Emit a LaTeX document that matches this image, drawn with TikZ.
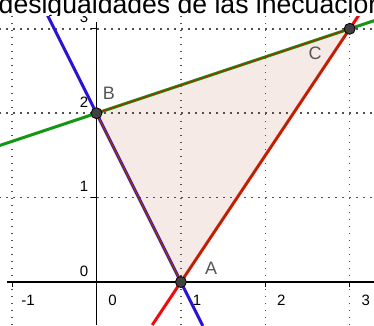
\documentclass[tikz,border=0pt]{standalone}
\usepackage{fontspec}
\setmainfont{Liberation Sans}
\usetikzlibrary{calc}
\definecolor{ggblue}{RGB}{40,20,215}
\definecolor{ggred}{RGB}{240,10,10}
\definecolor{gggreen}{RGB}{20,150,20}
\definecolor{ggbrown}{RGB}{153,51,0}
\definecolor{gridgray}{RGB}{80,80,80}
\definecolor{labgray}{RGB}{85,85,85}
\tikzset{
  gridline/.style={gridgray, line width=1.5pt, dash pattern=on 1.5pt off 5.5pt},
  axisline/.style={black, line width=1.2pt},
  plotline/.style={line width=3pt},
  edgeline/.style={ggbrown, line width=1.4pt},
  ptdot/.style={circle, fill=black!75, draw=black, line width=0.8pt, minimum size=11pt, inner sep=0pt},
  ticklab/.style={font=\fontsize{15}{15}\selectfont, inner sep=0pt},
  ptlab/.style={font=\fontsize{18}{18}\selectfont, text=labgray, inner sep=0pt}
}
\begin{document}
\begin{tikzpicture}[x=84.4pt,y=84.4pt]
\useasboundingbox (-1.1434,-0.5095) rectangle (3.2879,3.3412);
\clip (-1.1434,-0.5095) rectangle (3.2879,3.3412);
% grid
\foreach \x in {-1,1,2,3} \draw[gridline] (\x,-0.51) -- (\x,3.15);
\foreach \y in {1,2,3} \draw[gridline] (-1.15,\y) -- (3.29,\y);
% axes
\draw[axisline] (-1.06,0) -- (3.29,0);
\draw[axisline] (0,-0.51) -- (0,3.08);
\foreach \x in {-1,1,2,3} \draw[axisline] (\x,0) -- (\x,-0.06);
\foreach \y in {1,2,3} \draw[axisline] (0,\y) -- (-0.07,\y);
% tick labels
\foreach \x/\t in {-1/-1,0/0,1/1,2/2,3/3} \node[ticklab] (xl\x) at (\x+0.19,-0.213) {\t};
\foreach \y in {0,1,2,3} \node[ticklab] (yl\y) at (-0.148,\y+0.13) {\y};
% points
\coordinate (A) at (1,0);
\coordinate (B) at (0,2);
\coordinate (C) at (3,3);
% triangle fill
\fill[ggbrown, fill opacity=0.1] (A) -- (B) -- (C) -- cycle;
% lines
\coordinate (g1) at (-1.2,1.6);
\coordinate (g2) at (3.3,3.1);
\coordinate (r1) at (0.66,-0.51);
\coordinate (r2) at (3.2,3.3);
\coordinate (b1) at (-0.58,3.16);
\coordinate (b2) at (1.26,-0.52);
\draw[plotline, gggreen] (g1) -- (g2);
\draw[plotline, ggred] (r1) -- (r2);
\draw[plotline, ggblue] (b1) -- (b2);
% triangle edges
\draw[edgeline] (A) -- (B) -- (C) -- cycle;
% point markers
\node[ptdot] (pA) at (A) {};
\node[ptdot] (pB) at (B) {};
\node[ptdot] (pC) at (C) {};
\node[ptlab] (lA) at (1.357,0.166) {A};
\node[ptlab] (lB) at (0.148,2.239) {B};
\node[ptlab] (lC) at (2.589,2.713) {C};
% title
\fill[white] (-1.15,3.152) rectangle (3.3,3.35);
\begin{scope}
\clip (-1.15,3.152) rectangle (3.3,3.35);
\node[anchor=base west, inner sep=0pt, font=\fontsize{26.6}{26.6}\selectfont] (title) at (-1.161,3.181) {desigualdades de las inecuacion};
\end{scope}
\end{tikzpicture}
\end{document}
